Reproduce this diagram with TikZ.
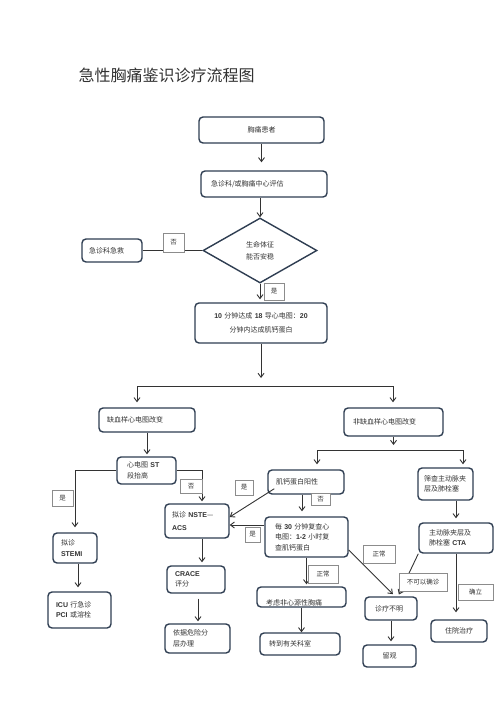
\documentclass[tikz,border=0pt]{standalone}
\usepackage{fontspec}
\setmainfont{Noto Sans CJK SC}
\newfontfamily\latinfont{Liberation Sans}
\newcommand{\latw}[1]{{\latinfont\bfseries #1}}
\usepackage{tikz}
\usetikzlibrary{arrows.meta, positioning, shapes.geometric, shadows}
\definecolor{boxc}{HTML}{2F3E52}
\definecolor{linec}{HTML}{333333}
\definecolor{tagc}{HTML}{8C8C8C}
\definecolor{textc}{HTML}{333333}

\begin{document}
\begin{tikzpicture}[x=1pt, y=-1pt, >={Straight Barb[length=4pt,width=6pt]},
	box/.style={draw=boxc, line width=1.4pt, rounded corners=4pt, align=left, inner xsep=8pt, inner ysep=2pt, text=textc, font=\fontsize{7}{10.5}\selectfont},
	tag/.style={draw=tagc, line width=0.6pt, fill=white, inner sep=0pt, text=textc, font=\fontsize{6.5}{8}\selectfont, general shadow={fill=gray!50, shadow xshift=0.8pt, shadow yshift=-0.8pt}},
	arr/.style={->, draw=linec, line width=0.9pt},
	link/.style={draw=linec, line width=0.9pt}]
				\fill[white] (0,0) rectangle (500,708);
				\useasboundingbox (0,0) rectangle (500,708);
				
				\node[anchor=west, text=textc, font=\fontsize{16}{18}\selectfont] (title) at (75,75) {急性胸痛鉴识诊疗流程图};
				
				\node[box, align=center, text width=109pt, minimum height=26pt] (patient) at (261.5,130) {胸痛患者};
				\node[box, inner xsep=10pt, text width=106pt, minimum height=26pt] (assess) at (264,184) {急诊科/或胸痛中心评估};
				\node[draw=boxc, line width=1.4pt, diamond, minimum width=114pt, minimum height=65pt, inner sep=0pt, align=center, text=textc, font=\fontsize{7}{10.5}\selectfont] (vital) at (260,250.5) {生命体征\\[1.5pt]能否安稳};
				\node[box, inner xsep=7pt, text width=46pt, minimum height=23pt] (rescue) at (112,250.5) {急诊科急救};
				\node[box, align=center, text width=116pt, minimum height=40pt] (ecg) at (261,323) {\latw{10} 分钟达成 \latw{18} 导心电图：\latw{20}\\[3pt]分钟内达成肌钙蛋白};
				
				\node[box, text width=80pt, minimum height=24pt] (isch) at (147,420) {缺血样心电图改变};
				\node[box, inner xsep=9pt, text width=81pt, minimum height=28pt] (nonisch) at (393.5,422) {非缺血样心电图改变};
				
				\node[box, inner xsep=10pt, text width=39pt, minimum height=27pt] (st) at (146.5,470.5) {心电图 \latw{ST}\\段抬高};
				\node[box, text width=28pt, minimum height=30pt] (stemi) at (75,548) {拟诊\\\latw{STEMI}};
				\node[box, text width=47pt, minimum height=36pt] (icu) at (79.5,610) {\latw{ICU} 行急诊\\\latw{PCI} 或溶栓};
				\node[box, inner xsep=7pt, text width=50pt, minimum height=34pt] (nste) at (197,521) {拟诊 \latw{NSTE}—\\[2pt]\latw{ACS}};
				\node[box, text width=42pt, minimum height=27pt] (crace) at (196,579.5) {\latw{CRACE}\\评分};
				\node[box, text width=49pt, minimum height=29pt] (risk) at (197.5,638.5) {依据危险分\\层办理};
				
				\node[box, text width=60pt, minimum height=24pt] (trop) at (306,482) {肌钙蛋白阳性};
				\node[box, inner xsep=10pt, text width=63pt, minimum height=40pt] (recheck) at (306.5,537) {每 \latw{30} 分钟复查心\\电图：\latw{1-2} 小时复\\查肌钙蛋白};
				\node[box, inner xsep=9pt, text width=71pt, minimum height=20pt] (noncard) at (301.5,597) {\smash{\raisebox{-8pt}{考虑非心源性胸痛}}};
				\node[box, inner xsep=9pt, text width=62pt, minimum height=22pt] (transfer) at (300,644) {转到有关科室};
				\node[box, inner xsep=10pt, text width=32pt, minimum height=23pt] (unclear) at (391,608.5) {诊疗不明};
				\node[box, align=center, text width=37pt, minimum height=22pt] (observe) at (389.5,656) {留观};
				
				\node[box, inner xsep=6pt, text width=43pt, minimum height=32pt] (screen) at (445.5,484) {筛查主动脉夹\\层及肺栓塞};
				\node[box, inner xsep=10pt, text width=54pt, minimum height=30pt] (cta) at (456,538) {主动脉夹层及\\肺栓塞 \latw{CTA}};
				\node[box, align=center, text width=40pt, minimum height=22pt] (hosp) at (459,631) {住院治疗};
				
				\coordinate (forkl) at (137,386);
				\coordinate (forkr) at (393,386);
				\coordinate (splitl) at (317,450);
				\coordinate (splitr) at (463,450);
				
				\draw[arr, shorten >=8pt] (patient.south) -- (patient.south |- assess.north);
				\draw[arr] (assess.south -| vital.north) -- (vital.north);
				\draw[link] (rescue.east) -- (vital.west);
				\draw[arr, shorten >=3pt] (vital.south) -- (vital.south |- ecg.north);
				\draw[arr, shorten >=8pt] (ecg.south) -- (ecg.south |- forkl);
				\draw[link] (forkl) -- (forkr);
				\draw[arr, shorten >=5pt] (forkl) -- (forkl |- isch.north);
				\draw[arr, shorten >=5pt] (forkr) -- (forkr |- nonisch.north);
				\draw[arr, shorten >=2pt] (isch.south) -- (isch.south |- st.north);
				\draw[arr, shorten >=5pt] (nonisch.south) -- (nonisch.south |- splitl);
				\draw[link] (splitl) -- (splitr);
				\draw[arr, shorten >=5pt] (splitl) -- (splitl |- trop.north);
				\draw[arr, shorten >=3pt] (splitr) -- (splitr |- screen.north);
				
				\draw[arr, shorten >=5pt] (st.west) -| (stemi.north);
				\draw[arr, shorten >=2pt] (st.east) -| ([xshift=5pt]nste.north);
				\draw[arr, shorten >=4pt] ([xshift=3pt]stemi.south) -- ([xshift=3pt]stemi.south |- icu.north);
				\draw[arr, shorten >=3pt] ([xshift=5pt]nste.south) -- ([xshift=5pt]nste.south |- crace.north);
				\draw[arr, shorten <=5pt, shorten >=2pt] ([xshift=2pt]crace.south) -- ([xshift=2pt]crace.south |- risk.north);
				
				\draw[arr] ([shift={(7pt,6pt)}]trop.south west) -- ([yshift=4pt]nste.east);
				\draw[arr, shorten >=5pt] ([xshift=-4pt]trop.south) -- ([xshift=-4pt]trop.south |- recheck.north);
				\draw[arr] ([yshift=12pt]recheck.west) -- ([yshift=12pt]recheck.west -| nste.east);
				\draw[arr, shorten >=2pt] (recheck.south) -- (recheck.south |- noncard.north);
				\draw[arr] (noncard.south) -- (noncard.south |- transfer.north);
				\draw[arr, shorten >=3pt] ([yshift=-13pt]recheck.east) -- ([xshift=4pt]unclear.north);
				\draw[arr, shorten >=2pt] (cta.south west) -- ([xshift=7pt]unclear.north);
				\draw[arr, shorten >=3pt] (unclear.south) -- (unclear.south |- observe.north);
				\draw[arr, shorten >=4pt] (screen.south -| cta.north) -- (cta.north);
				\draw[arr, shorten >=7pt] (cta.south) -- (cta.south |- hosp.north);
				
				\node[tag, minimum width=21pt, minimum height=19pt] (no1) at (173.5,242.5) {否};
				\node[tag, minimum width=20pt, minimum height=17pt] (yes1) at (274,291.5) {是};
				\node[tag, minimum width=21pt, minimum height=16pt] (yes2) at (62.5,498) {是};
				\node[tag, minimum width=22pt, minimum height=14pt] (no2) at (191,486) {否};
				\node[tag, minimum width=18pt, minimum height=15pt] (yes3) at (244,487.5) {是};
				\node[tag, minimum width=19pt, minimum height=12pt] (no3) at (320.5,499) {否};
				\node[tag, minimum width=15pt, minimum height=15pt] (yes4) at (252.5,534.5) {是};
				\node[tag, minimum width=30pt, minimum height=18pt] (norm1) at (323,574) {正常};
				\node[tag, minimum width=32pt, minimum height=18pt] (norm2) at (379,554) {正常};
				\node[tag, minimum width=48pt, minimum height=18pt] (nodiag) at (423,582) {不可以确诊};
				\node[tag, minimum width=35pt, minimum height=16pt] (conf) at (475.5,592) {确立};
			\end{tikzpicture}
\end{document}
